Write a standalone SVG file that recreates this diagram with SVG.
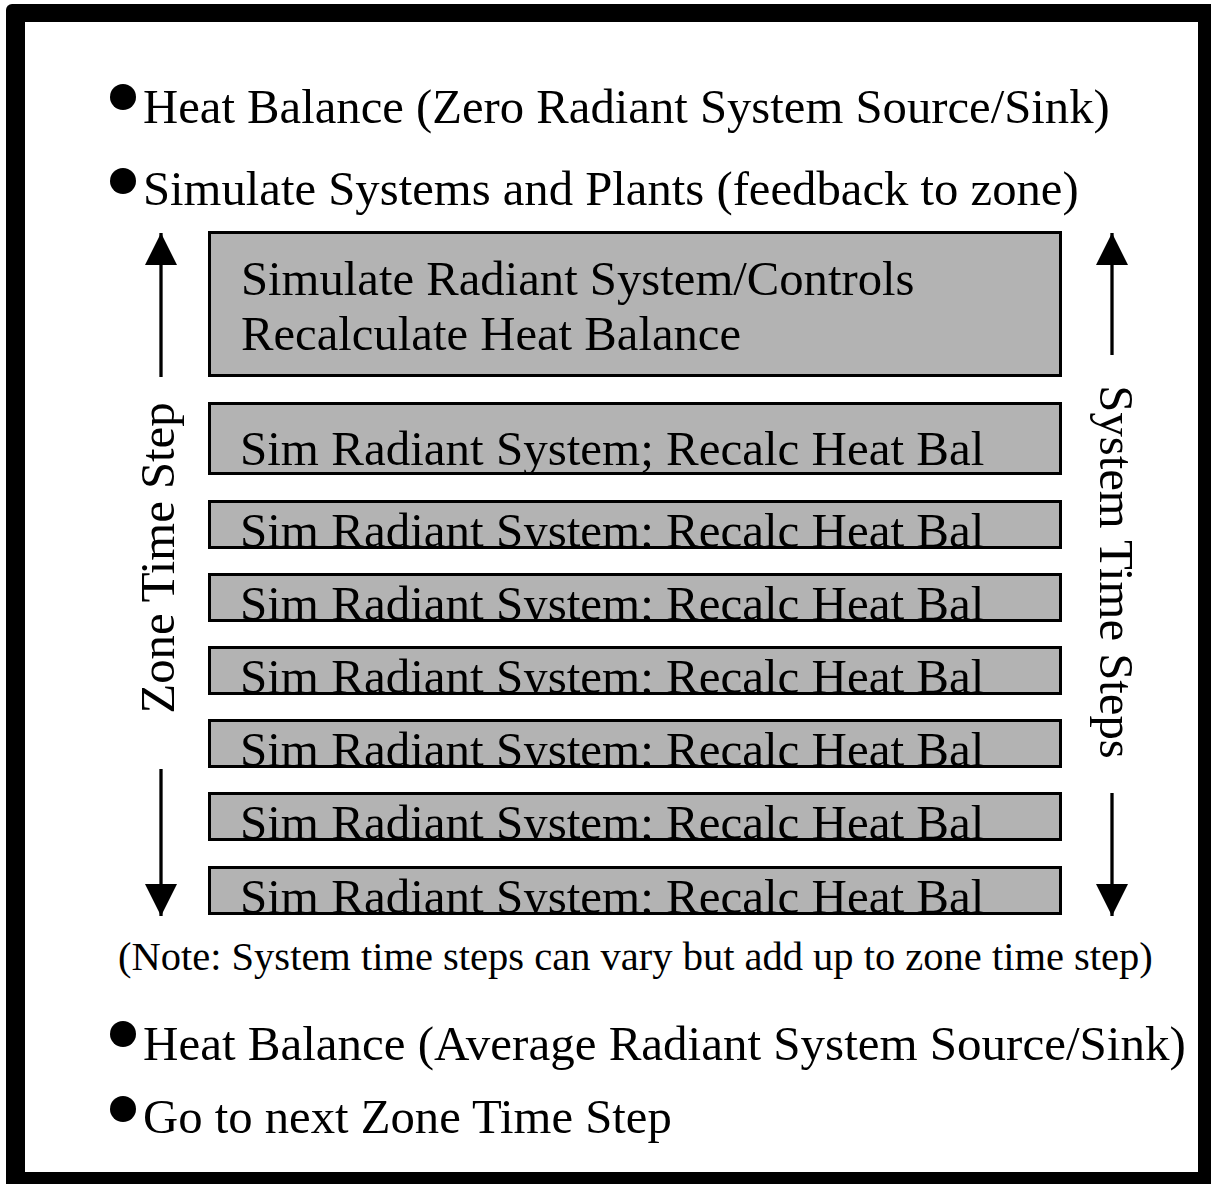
<svg xmlns="http://www.w3.org/2000/svg" width="1211" height="1184" viewBox="0 0 1211 1184">
<style>
text{font-family:"Liberation Serif","Times New Roman",serif;fill:#000}
.t{font-size:48.7px}
.b{font-size:49px}
.n{font-size:40.5px}
.box{fill:#b3b3b3;stroke:#000;stroke-width:3}
.ln{stroke:#000;stroke-width:3.3;fill:none}
</style>
<defs>
<marker id="ah" markerUnits="userSpaceOnUse" markerWidth="34" markerHeight="32" refX="32" refY="16" orient="auto">
<path d="M0,0 L32,16 L0,32 Z" fill="#000"/>
</marker>
<clipPath id="c1"><rect x="200" y="500" width="870" height="49"/></clipPath>
<clipPath id="c2"><rect x="200" y="573" width="870" height="49"/></clipPath>
<clipPath id="c3"><rect x="200" y="646" width="870" height="49"/></clipPath>
<clipPath id="c4"><rect x="200" y="719" width="870" height="49"/></clipPath>
<clipPath id="c5"><rect x="200" y="792" width="870" height="49"/></clipPath>
<clipPath id="c6"><rect x="200" y="866" width="870" height="49"/></clipPath>
</defs>
<rect x="0" y="0" width="1211" height="1184" fill="#fff"/>
<rect x="6" y="4" width="1230" height="1200" rx="6" fill="#000"/>
<rect x="25" y="22" width="1173" height="1150" fill="#fff"/>

<g id="bullet1"><circle cx="123" cy="97" r="13"/><text class="t" x="143" y="123">Heat Balance (Zero Radiant System Source/Sink)</text></g>
<g id="bullet2"><circle cx="123" cy="181" r="13"/><text class="t" x="143" y="205">Simulate Systems and Plants (feedback to zone)</text></g>

<g id="box-main"><rect class="box" x="209.5" y="232.5" width="851" height="143"/>
<text class="t" x="241" y="295">Simulate Radiant System/Controls</text>
<text class="t" x="241" y="350">Recalculate Heat Balance</text></g>
<g id="step1"><rect class="box" x="209.5" y="403.5" width="851" height="70"/><text class="b" x="240" y="465">Sim Radiant System; Recalc Heat Bal</text></g>
<g id="step2"><rect class="box" x="209.5" y="501.5" width="851" height="46"/><text class="b" x="240" y="547" clip-path="url(#c1)">Sim Radiant System; Recalc Heat Bal</text><rect x="209.5" y="501.5" width="851" height="46" fill="none" stroke="#000" stroke-width="3"/></g>
<g id="step3"><rect class="box" x="209.5" y="574.5" width="851" height="46"/><text class="b" x="240" y="620" clip-path="url(#c2)">Sim Radiant System; Recalc Heat Bal</text><rect x="209.5" y="574.5" width="851" height="46" fill="none" stroke="#000" stroke-width="3"/></g>
<g id="step4"><rect class="box" x="209.5" y="647.5" width="851" height="46"/><text class="b" x="240" y="693" clip-path="url(#c3)">Sim Radiant System; Recalc Heat Bal</text><rect x="209.5" y="647.5" width="851" height="46" fill="none" stroke="#000" stroke-width="3"/></g>
<g id="step5"><rect class="box" x="209.5" y="720.5" width="851" height="46"/><text class="b" x="240" y="766" clip-path="url(#c4)">Sim Radiant System; Recalc Heat Bal</text><rect x="209.5" y="720.5" width="851" height="46" fill="none" stroke="#000" stroke-width="3"/></g>
<g id="step6"><rect class="box" x="209.5" y="793.5" width="851" height="46"/><text class="b" x="240" y="839" clip-path="url(#c5)">Sim Radiant System; Recalc Heat Bal</text><rect x="209.5" y="793.5" width="851" height="46" fill="none" stroke="#000" stroke-width="3"/></g>
<g id="step7"><rect class="box" x="209.5" y="867.5" width="851" height="46"/><text class="b" x="240" y="913" clip-path="url(#c6)">Sim Radiant System; Recalc Heat Bal</text><rect x="209.5" y="867.5" width="851" height="46" fill="none" stroke="#000" stroke-width="3"/></g>

<g id="label-zone"><text class="t" transform="translate(174,558) rotate(-90)" text-anchor="middle">Zone Time Step</text></g>
<g id="label-system"><text class="t" transform="translate(1100,572) rotate(90)" text-anchor="middle">System Time Steps</text></g>

<g id="connectors">
<line class="ln" x1="161" y1="377" x2="161" y2="233" marker-end="url(#ah)"/>
<line class="ln" x1="1112" y1="355" x2="1112" y2="233" marker-end="url(#ah)"/>
<line class="ln" x1="161" y1="769" x2="161" y2="916" marker-end="url(#ah)"/>
<line class="ln" x1="1112" y1="793" x2="1112" y2="916" marker-end="url(#ah)"/>
</g>

<g id="note"><text class="n" x="118" y="970">(Note: System time steps can vary but add up to zone time step)</text></g>
<g id="bullet3"><circle cx="123" cy="1034" r="13"/><text class="b" x="143" y="1060">Heat Balance (Average Radiant System Source/Sink)</text></g>
<g id="bullet4"><circle cx="123" cy="1109" r="13"/><text class="t" x="143" y="1133">Go to next Zone Time Step</text></g>
</svg>
